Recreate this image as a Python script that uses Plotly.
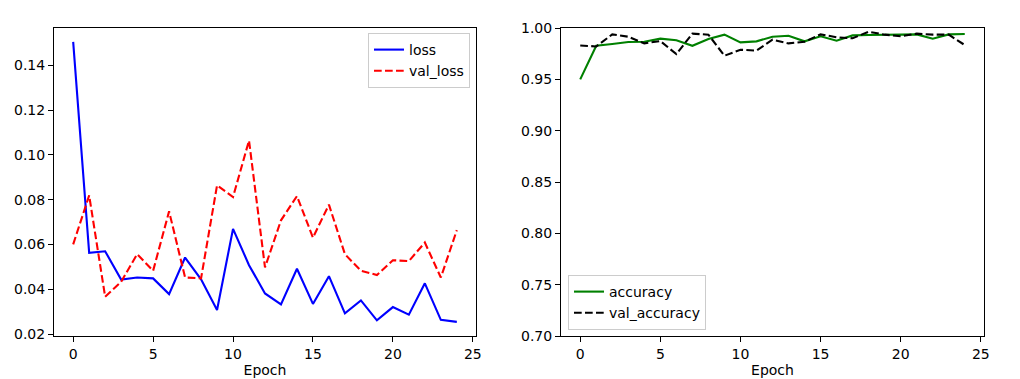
import plotly.graph_objects as go

epochs = list(range(25))
loss = [0.1504, 0.0563, 0.0570, 0.0444, 0.0453, 0.0449, 0.0379, 0.0542, 0.0445, 0.0308,
        0.0670, 0.0508, 0.0382, 0.0333, 0.0492, 0.0335, 0.0459, 0.0293, 0.0351, 0.0262,
        0.0321, 0.0287, 0.0427, 0.0264, 0.0255]
val_loss = [0.0601, 0.0819, 0.0367, 0.0434, 0.0557, 0.0483, 0.0748, 0.0453, 0.0449, 0.0864,
            0.0812, 0.1064, 0.0498, 0.0708, 0.0816, 0.0631, 0.0778, 0.0557, 0.0483, 0.0464,
            0.0530, 0.0526, 0.0609, 0.0453, 0.0664]
accuracy = [0.9500, 0.9827, 0.9844, 0.9863, 0.9866, 0.9896, 0.9880, 0.9827, 0.9893, 0.9935,
            0.9860, 0.9870, 0.9915, 0.9925, 0.9870, 0.9919, 0.9876, 0.9928, 0.9932, 0.9932,
            0.9935, 0.9938, 0.9896, 0.9938, 0.9941]
val_accuracy = [0.9830, 0.9820, 0.9938, 0.9915, 0.9850, 0.9873, 0.9746, 0.9945, 0.9935, 0.9730,
                0.9788, 0.9780, 0.9886, 0.9850, 0.9866, 0.9938, 0.9910, 0.9900, 0.9964, 0.9935,
                0.9920, 0.9945, 0.9935, 0.9935, 0.9834]

W, H = 1020, 379
font = dict(family="DejaVu Sans", size=14, color="black")
dash = "7.7px,3.3px"

fig = go.Figure()
fig.add_trace(go.Scatter(x=epochs, y=loss, mode="lines", name="loss",
                         line=dict(color="blue", width=2.1), xaxis="x", yaxis="y", legend="legend"))
fig.add_trace(go.Scatter(x=epochs, y=val_loss, mode="lines", name="val_loss",
                         line=dict(color="red", width=2.1, dash=dash), xaxis="x", yaxis="y", legend="legend"))
fig.add_trace(go.Scatter(x=epochs, y=accuracy, mode="lines", name="accuracy",
                         line=dict(color="green", width=2.1), xaxis="x2", yaxis="y2", legend="legend2"))
fig.add_trace(go.Scatter(x=epochs, y=val_accuracy, mode="lines", name="val_accuracy",
                         line=dict(color="black", width=2.1, dash=dash), xaxis="x2", yaxis="y2", legend="legend2"))

ax_common = dict(showline=True, linecolor="black", linewidth=1, mirror=True,
                 ticks="outside", ticklen=5, tickwidth=1, tickcolor="black",
                 showgrid=False, zeroline=False, tickfont=font, automargin=False)

ydom = [1 - 336 / H, 1 - 28 / H]
fig.update_layout(
    width=W, height=H,
    margin=dict(l=0, r=0, t=0, b=0, autoexpand=False),
    paper_bgcolor="white", plot_bgcolor="white",
    font=font,
    xaxis=dict(domain=[54 / W, 476 / W], range=[-1.2, 25.2], tick0=0, dtick=5,
               title=dict(text="Epoch", font=font, standoff=4), anchor="y", **ax_common),
    yaxis=dict(domain=ydom, range=[0.0192, 0.1566], tick0=0, dtick=0.02, tickformat=".2f",
               anchor="x", **ax_common),
    xaxis2=dict(domain=[561 / W, 984 / W], range=[-1.2, 25.2], tick0=0, dtick=5,
                title=dict(text="Epoch", font=font, standoff=4), anchor="y2", **ax_common),
    yaxis2=dict(domain=ydom, range=[0.70, 1.00], tick0=0.7, dtick=0.05, tickformat=".2f",
                anchor="x2", **ax_common),
    legend=dict(x=470 / W, y=1 - 33 / H, xanchor="right", yanchor="top",
                bgcolor="rgba(255,255,255,0.8)", bordercolor="#cccccc", borderwidth=1,
                font=font, tracegroupgap=0),
    legend2=dict(x=568 / W, y=1 - 330 / H, xanchor="left", yanchor="bottom",
                 bgcolor="rgba(255,255,255,0.8)", bordercolor="#cccccc", borderwidth=1,
                 font=font, tracegroupgap=0),
    showlegend=True,
)

fig.write_html("out.html", config={"displayModeBar": False},
               post_script="document.body.style.margin='0';document.body.style.overflow='hidden';")
